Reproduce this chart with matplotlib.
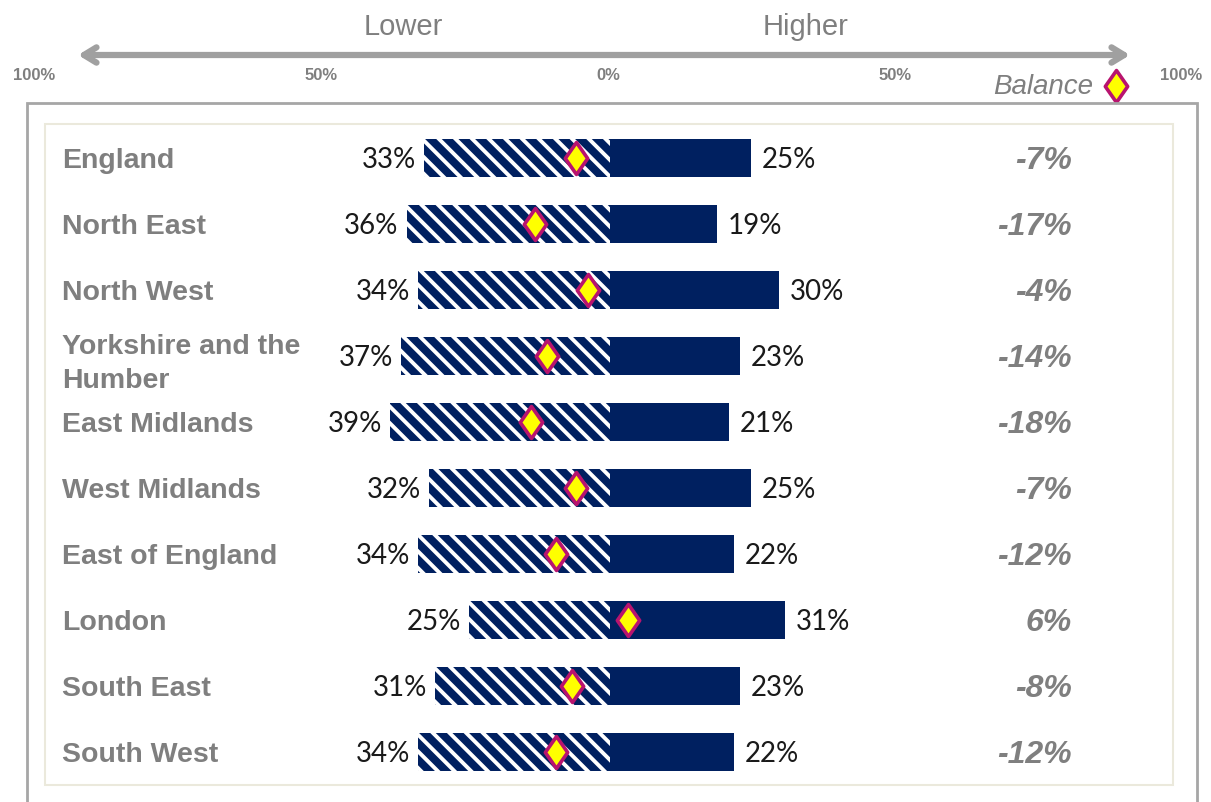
import matplotlib
matplotlib.use('Agg')
import matplotlib.pyplot as plt
from matplotlib.patches import Rectangle
from matplotlib.path import Path

# ---- data ----
regions = ["England", "North East", "North West", "Yorkshire and the\nHumber",
           "East Midlands", "West Midlands", "East of England", "London",
           "South East", "South West"]
lower = [33, 36, 34, 37, 39, 32, 34, 25, 31, 34]
higher = [25, 19, 30, 23, 21, 25, 22, 31, 23, 22]
balance = [-7, -17, -4, -14, -18, -7, -12, 6, -8, -12]
scale_ticks = [-100, -50, 0, 50, 100]
scale_labels = ["100%", "50%", "0%", "50%", "100%"]
header_labels = ["Lower", "Higher"]

# ---- style ----
NAVY = '#002060'
GRAY = '#7f7f7f'
DIAM_FILL = '#FFFF00'
DIAM_EDGE = '#B8146F'
DIAMOND = Path([(0, 1), (0.7, 0), (0, -1), (-0.7, 0), (0, 1)],
               [Path.MOVETO, Path.LINETO, Path.LINETO, Path.LINETO, Path.CLOSEPOLY])

W, H = 1211, 802
plt.rcParams['hatch.linewidth'] = 2.8
fig = plt.figure(figsize=(W / 100, H / 100), dpi=100)
fig.patch.set_facecolor('white')
ax = fig.add_axes([0, 0, 1, 1])

X0, PPV = 610, 5.65   # pixel of 0 %, pixels per percent
Y0, PPR = 158, 66.0   # pixel of first row, pixels per row


def px2x(p):
    return (p - X0) / PPV


def py2y(p):
    return (p - Y0) / PPR


ax.set_xlim(px2x(0), px2x(W))
ax.set_ylim(py2y(H), py2y(0))
ax.axis('off')

# frames
fig.add_artist(Rectangle((27 / W, -0.02), (1197 - 27) / W, (H - 103) / H + 0.02,
                         fill=False, ec='#a6a6a6', lw=2, transform=fig.transFigure))
fig.add_artist(Rectangle((45 / W, (H - 785) / H), (1173 - 45) / W, (785 - 124) / H,
                         fill=False, ec='#ebe9dc', lw=1.5, transform=fig.transFigure))

ypos = list(range(len(regions)))
neg_lower = [-v for v in lower]
ax.barh(ypos, neg_lower, height=0.59, color=NAVY, edgecolor='white',
        hatch='\\\\', linewidth=0, zorder=2)
ax.barh(ypos, higher, height=0.59, color=NAVY, linewidth=0, zorder=2)

dy = 0.03
for i, (lo, hi, b, name) in enumerate(zip(lower, higher, balance, regions)):
    ax.text(-lo - 1.4, i + dy, f"{lo}%", ha='right', va='center', fontsize=20,
            family='Lato', color='#1a1a1a')
    ax.text(hi + 1.9, i + dy, f"{hi}%", ha='left', va='center', fontsize=20,
            family='Lato', color='#1a1a1a')
    ax.text(px2x(1072), i + 0.05, f"{b}%", ha='right', va='center', fontsize=23,
            weight='bold', style='italic', family='Liberation Sans', color=GRAY)
    ny = i + (0.12 if '\n' in name else 0.05)
    ax.text(px2x(62), ny, name, ha='left', va='center', fontsize=20.5,
            weight='bold', family='Liberation Sans', color=GRAY, linespacing=1.38)

# balance markers on a secondary scale
ax2 = ax.twiny()
ax2.set_xlim(-604 / 4.04, (W - 604) / 4.04)
ax2.axis('off')
ax2.plot(balance, ypos, ls='none', marker=DIAMOND, ms=23, mfc=DIAM_FILL,
         mec=DIAM_EDGE, mew=2.6, zorder=5)

# top scale
for t, lab in zip(scale_ticks, scale_labels):
    ax.text(px2x(608 + 5.735 * t), py2y(76), lab, ha='center', va='center',
            fontsize=12, weight='bold', family='Liberation Sans', color=GRAY)

ax.annotate('', xy=(px2x(1130), py2y(55)), xytext=(px2x(78), py2y(55)),
            arrowprops=dict(arrowstyle='<->,head_length=0.9,head_width=0.55',
                            color='#a0a0a0', lw=4.5, shrinkA=0, shrinkB=0))
ax.text(px2x(403), py2y(27), header_labels[0], ha='center', va='center',
        fontsize=21, family='Liberation Sans', color=GRAY)
ax.text(px2x(806), py2y(27), header_labels[1], ha='center', va='center',
        fontsize=21, family='Liberation Sans', color=GRAY)

# legend key
ax.text(px2x(1093), py2y(87), "Balance", ha='right', va='center', fontsize=20,
        style='italic', family='Liberation Sans', color=GRAY)
ax.plot([px2x(1116)], [py2y(86)], marker=DIAMOND, ms=23, mfc=DIAM_FILL,
        mec=DIAM_EDGE, mew=2.6, ls='none')

fig.savefig('out.png', dpi=100, facecolor='white')
